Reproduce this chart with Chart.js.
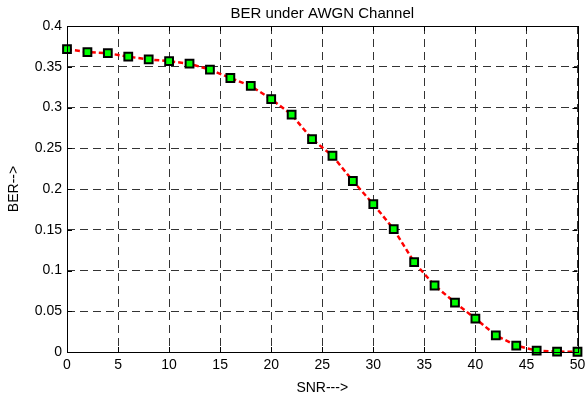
<!DOCTYPE html>
<html lang="en">
<head>
  <meta charset="UTF-8">
  <title>BER under AWGN Channel</title>
  <style>
    html, body { margin: 0; padding: 0; background: #fff; }
    #wrap { width: 585px; height: 397px; }
  </style>
</head>
<body>
  <div id="wrap">
    <canvas id="berChart" width="585" height="397"></canvas>
  </div>
  <script src="https://cdn.jsdelivr.net/npm/chart.js"></script>
  <script>
    // SNR points (dB) and measured bit error rate
    const snr = [0, 2, 4, 6, 8, 10, 12, 14, 16, 18, 20, 22, 24, 26, 28, 30, 32, 34, 36, 38, 40, 42, 44, 46, 48, 50];
    const ber = [0.3715, 0.368, 0.3666, 0.3624, 0.359, 0.3568, 0.3538, 0.3464, 0.3362, 0.3264,
                 0.3104, 0.2912, 0.2612, 0.2408, 0.2098, 0.1814, 0.1507, 0.1102, 0.0816, 0.0607,
                 0.041, 0.0205, 0.0079, 0.0017, 0.0005, 0.0003];
    const xTicks = [0, 5, 10, 15, 20, 25, 30, 35, 40, 45, 50];
    const yTicks = [0, 0.05, 0.1, 0.15, 0.2, 0.25, 0.3, 0.35, 0.4];

    Chart.defaults.font.family = "'Liberation Sans', Arial, sans-serif";
    Chart.defaults.font.size = 14;
    Chart.defaults.color = '#000';

    // box around the axes with small inward ticks on every side
    const boxPlugin = {
      id: 'axesBox',
      afterDraw(chart) {
        const { ctx, chartArea: a, scales } = chart;
        ctx.save();
        ctx.strokeStyle = '#000';
        ctx.lineWidth = 1;
        ctx.setLineDash([]);
        ctx.beginPath();
        xTicks.forEach(v => {
          const px = Math.round(scales.x.getPixelForValue(v)) + 0.5;
          ctx.moveTo(px, a.bottom); ctx.lineTo(px, a.bottom - 5);
          ctx.moveTo(px, a.top); ctx.lineTo(px, a.top + 5);
        });
        yTicks.forEach(v => {
          const py = Math.round(scales.y.getPixelForValue(v)) + 0.5;
          ctx.moveTo(a.left, py); ctx.lineTo(a.left + 5, py);
          ctx.moveTo(a.right, py); ctx.lineTo(a.right - 5, py);
        });
        ctx.stroke();
        ctx.strokeRect(Math.round(a.left) + 0.5, Math.round(a.top) + 0.5,
                       Math.round(a.right - a.left), Math.round(a.bottom - a.top));
        ctx.restore();
      }
    };

    const ctx = document.getElementById('berChart').getContext('2d');
    new Chart(ctx, {
      type: 'line',
      data: {
        datasets: [{
          data: snr.map((s, i) => ({ x: s, y: ber[i] })),
          borderColor: '#ff0000',
          borderWidth: 2.5,
          borderDash: [5, 3],
          tension: 0,
          pointStyle: 'rect',
          pointRadius: 5.5,
          pointBackgroundColor: '#00ff00',
          pointBorderColor: '#000',
          pointBorderWidth: 2,
          clip: false
        }]
      },
      options: {
        responsive: false,
        animation: false,
        layout: { padding: { left: 0, right: 6, top: 0, bottom: 0 } },
        scales: {
          x: {
            type: 'linear',
            min: 0,
            max: 50,
            afterBuildTicks: s => { s.ticks = xTicks.map(v => ({ value: v })); },
            afterFit: s => { s.height = 45; s.paddingLeft = 0; s.paddingRight = 0; },
            ticks: { padding: 5, maxRotation: 0 },
            grid: { color: '#333', lineWidth: 1, drawTicks: false },
            border: { display: false, dash: [8, 5] },
            title: { display: true, text: 'SNR--->', padding: { top: 1, bottom: 0 } }
          },
          y: {
            min: 0,
            max: 0.4,
            afterBuildTicks: s => { s.ticks = yTicks.map(v => ({ value: v })); },
            afterFit: s => { s.width = 67; },
            ticks: { padding: 5, callback: v => String(+v.toFixed(2)) },
            grid: { color: '#333', lineWidth: 1, drawTicks: false },
            border: { display: false, dash: [8, 5] },
            title: { display: true, text: 'BER-->', padding: { top: 6, bottom: 0 } }
          }
        },
        plugins: {
          legend: { display: false },
          tooltip: { enabled: false },
          title: {
            display: true,
            fullSize: false,
            text: 'BER under AWGN Channel',
            color: '#000',
            font: { size: 15, weight: 'normal' },
            padding: { top: 5, bottom: 3 }
          }
        }
      },
      plugins: [boxPlugin]
    });
  </script>
</body>
</html>
